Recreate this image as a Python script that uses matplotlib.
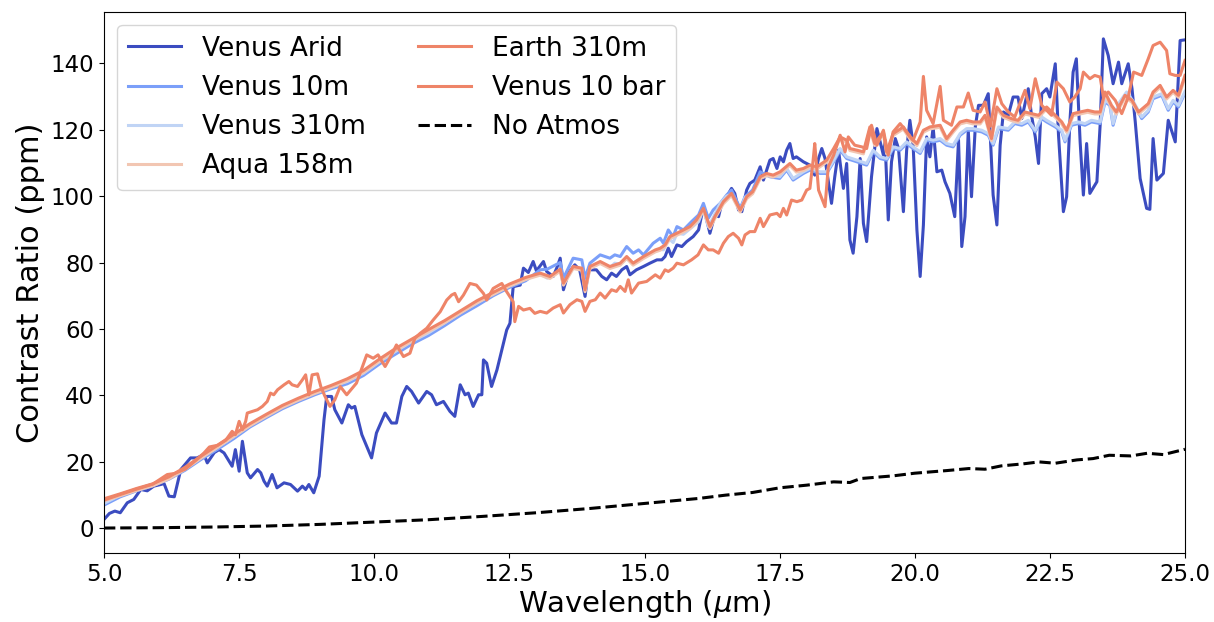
import matplotlib
matplotlib.use("Agg")
import matplotlib.pyplot as plt

# ---------------- data ----------------
arid_x = [5.0,5.1,5.2,5.3,5.43,5.55,5.68,5.8,5.92,6.05,
          6.11,6.2,6.3,6.42,6.6,6.72,6.85,6.91,7.04,7.13,
          7.22,7.37,7.43,7.5,7.56,7.65,7.71,7.84,7.9,7.96,
          8.02,8.11,8.2,8.33,8.45,8.58,8.67,8.73,8.79,8.88,
          8.98,9.07,9.12,9.21,9.27,9.4,9.52,9.58,9.64,9.77,
          9.86,9.95,10.04,10.2,10.32,10.41,10.51,10.6,10.69,10.82,
          10.97,11.06,11.15,11.28,11.4,11.49,11.59,11.68,11.74,11.83,
          11.93,11.99,12.02,12.08,12.17,12.27,12.36,12.45,12.51,12.57,
          12.64,12.7,12.76,12.85,12.94,13.0,13.13,13.19,13.31,13.38,
          13.44,13.5,13.59,13.71,13.8,13.9,13.96,14.11,14.21,14.3,
          14.39,14.48,14.58,14.67,14.73,14.85,14.98,15.1,15.23,15.32,
          15.38,15.44,15.5,15.6,15.69,15.78,15.9,16.0,16.09,16.15,
          16.21,16.3,16.37,16.43,16.52,16.61,16.67,16.74,16.8,16.89,
          16.95,17.04,17.14,17.2,17.32,17.38,17.45,17.51,17.57,17.63,
          17.69,17.75,17.81,17.94,18.06,18.15,18.22,18.28,18.34,18.46,
          18.52,18.59,18.68,18.74,18.8,18.86,18.93,18.99,19.05,19.11,
          19.2,19.3,19.36,19.42,19.45,19.51,19.57,19.64,19.7,19.79,
          19.85,19.91,19.97,20.04,20.1,20.16,20.22,20.28,20.34,20.41,
          20.5,20.56,20.65,20.74,20.81,20.87,20.93,20.99,21.05,21.12,
          21.18,21.27,21.36,21.45,21.52,21.58,21.64,21.73,21.82,21.91,
          21.98,22.1,22.16,22.23,22.29,22.35,22.44,22.5,22.6,22.66,
          22.75,22.81,22.87,22.93,22.99,23.06,23.12,23.18,23.24,23.37,
          23.43,23.49,23.58,23.67,23.77,23.83,23.95,24.02,24.08,24.17,
          24.29,24.35,24.41,24.48,24.6,24.69,24.82,24.91,25.0]
arid_y = [2.7,4.5,5.2,4.7,7.7,8.7,11.7,11.3,12.7,13.2,
          13.5,9.7,9.5,17.7,21.2,21.2,22.2,19.7,22.8,23.7,
          22.7,18.7,23.7,17.2,26.2,16.7,15.2,17.7,16.7,14.2,
          12.7,16.2,12.2,13.7,13.2,11.2,12.7,11.7,13.2,10.7,
          15.7,32.7,39.7,39.7,35.7,31.7,37.2,36.2,36.7,28.2,
          24.7,21.2,28.7,34.7,31.7,31.7,39.7,42.7,41.2,37.7,
          41.2,40.2,37.2,38.2,35.2,33.7,43.2,40.2,40.7,36.7,
          40.2,40.2,50.7,49.7,42.7,47.7,53.7,59.7,61.7,72.7,
          73.0,73.2,78.3,77.0,80.3,77.5,80.3,77.3,75.8,78.5,
          81.3,71.8,76.8,79.3,77.8,69.8,77.8,77.8,75.8,74.8,
          76.8,75.8,77.8,78.8,76.3,77.8,78.8,79.8,80.8,80.8,
          81.8,84.3,81.8,85.3,84.8,86.3,87.8,89.8,96.8,92.8,
          88.8,94.3,93.8,97.8,99.8,102.3,100.8,95.8,95.3,101.8,
          103.8,104.8,108.8,104.8,110.8,111.3,108.3,111.8,110.3,113.8,
          115.8,111.3,111.8,110.3,109.3,106.3,111.3,114.3,111.3,97.8,
          105.8,113.8,102.3,109.8,86.8,82.8,93.8,111.3,91.8,86.3,
          105.8,120.3,116.3,112.3,116.8,92.8,110.3,117.3,114.3,95.3,
          113.8,122.8,115.3,89.8,75.8,91.3,117.8,111.8,120.8,107.3,
          107.8,104.3,100.8,93.8,116.8,84.8,93.8,119.8,99.8,120.8,
          127.3,127.3,130.8,100.3,91.3,115.3,125.3,124.3,129.8,129.8,
          123.3,132.3,124.3,117.8,109.8,130.8,132.3,129.8,139.8,118.3,
          95.3,99.8,122.3,137.3,141.3,116.3,100.3,115.8,100.8,104.3,
          121.3,147.3,142.3,133.8,140.3,133.8,139.8,132.3,122.3,105.3,
          96.3,96.0,117.3,104.8,106.8,122.8,116.3,146.8,147.0]

venus_x = [5.0,5.3,5.6,5.9,6.2,6.5,6.8,7.1,7.4,7.7,
           8.0,8.3,8.6,8.9,9.2,9.5,9.8,10.1,10.4,10.7,
           11.0,11.3,11.6,11.9,12.2,12.5,12.8,13.07,13.2,13.44,
           13.5,13.68,13.84,13.9,13.99,14.18,14.36,14.45,14.55,14.67,
           14.79,14.89,14.98,15.16,15.29,15.35,15.44,15.53,15.6,15.72,
           15.87,16.0,16.09,16.18,16.27,16.4,16.52,16.61,16.77,16.86,
           17.0,17.14,17.32,17.5,17.63,17.75,17.94,18.06,18.25,18.37,
           18.5,18.62,18.74,18.93,19.11,19.23,19.36,19.48,19.6,19.73,
           19.85,19.97,20.1,20.22,20.34,20.47,20.59,20.71,20.84,20.96,
           21.08,21.24,21.36,21.45,21.55,21.73,21.85,21.98,22.1,22.23,
           22.35,22.44,22.6,22.72,22.78,22.9,23.03,23.15,23.27,23.43,
           23.52,23.61,23.67,23.77,23.92,24.05,24.2,24.32,24.41,24.57,
           24.69,24.78,24.88,25.0]
venus10m_y = [7.0,9.5,11.3,12.8,14.8,17.5,20.8,23.8,27.0,30.5,
              33.3,36.0,38.2,40.2,42.0,43.5,46.0,49.5,52.5,55.5,
              58.0,61.0,64.2,67.0,70.0,72.5,74.5,77.8,78.0,80.0,
              75.3,81.3,80.8,75.3,79.8,82.3,81.3,82.3,81.8,84.8,
              82.8,83.8,82.3,85.8,87.3,85.8,89.8,87.8,90.8,89.8,
              92.3,94.3,97.8,93.3,95.8,97.8,100.3,101.8,96.3,99.8,
              101.8,107.3,105.8,105.3,107.8,104.8,106.8,107.8,106.8,106.8,
              110.3,113.8,111.3,110.3,109.3,113.3,111.3,110.8,114.3,113.8,
              115.8,114.3,112.8,116.8,116.3,116.8,115.3,114.8,118.3,119.8,
              119.8,119.3,118.3,115.3,120.3,119.8,121.8,121.3,122.3,119.3,
              123.3,122.3,120.8,119.3,116.3,121.3,121.8,121.3,122.3,121.8,
              128.3,127.3,121.3,127.3,130.8,127.8,123.3,125.3,129.3,130.3,
              125.8,128.3,126.8,131.0]
venus310m_y = [7.5,10.0,11.8,13.3,15.3,18.0,21.3,24.4,27.6,31.0,
               33.9,36.6,38.8,40.8,42.6,44.2,46.7,50.2,53.3,56.3,
               58.8,61.8,65.0,67.8,70.6,73.0,75.0,76.5,75.3,77.5,
               73.5,78.5,78.0,71.8,78.3,80.0,78.5,79.8,79.5,81.5,
               79.8,80.8,81.5,83.3,84.0,83.8,87.3,86.0,88.8,88.5,
               90.5,92.3,96.0,90.8,93.5,97.8,100.0,100.5,95.5,99.5,
               101.0,105.5,106.3,105.8,108.3,105.3,107.3,108.3,107.3,107.3,
               110.8,114.3,111.8,110.8,109.8,113.8,111.8,111.3,114.8,114.3,
               116.3,114.8,113.3,117.3,116.8,117.3,115.8,115.3,118.8,120.3,
               120.3,119.8,118.8,115.8,120.8,120.3,122.3,121.8,122.8,119.8,
               123.8,122.8,121.3,119.8,116.8,121.8,122.3,121.8,122.8,122.3,
               128.8,127.8,121.8,127.8,131.3,128.3,123.8,125.8,129.8,130.8,
               126.3,128.8,127.3,131.5]

bar_x = [5.0,5.3,5.6,5.9,6.2,6.5,6.8,7.1,7.4,7.7,
         8.0,8.3,8.6,8.9,9.2,9.5,9.8,10.1,10.4,10.7,
         11.0,11.3,11.6,11.9,12.2,12.5,12.8,13.07,13.25,13.44,
         13.5,13.68,13.84,13.9,13.99,14.18,14.36,14.55,14.67,14.79,
         14.98,15.2,15.29,15.38,15.47,15.66,15.84,15.96,16.09,16.21,
         16.3,16.46,16.61,16.77,16.89,17.0,17.14,17.26,17.38,17.51,
         17.69,17.81,17.94,18.06,18.19,18.37,18.5,18.62,18.74,18.8,
         18.93,19.05,19.17,19.26,19.42,19.48,19.6,19.79,19.91,20.04,
         20.16,20.28,20.47,20.59,20.71,20.84,20.96,21.08,21.21,21.3,
         21.42,21.52,21.64,21.79,21.91,22.04,22.16,22.29,22.44,22.6,
         22.72,22.81,22.93,23.06,23.2,23.33,23.43,23.52,23.64,23.73,
         23.89,24.02,24.14,24.32,24.41,24.54,24.66,24.78,24.88,25.0]
venus10bar_y = [8.9,10.4,12.0,13.4,15.5,18.4,21.8,25.0,28.3,31.5,
                34.3,37.0,39.2,41.2,43.0,45.0,47.5,51.0,54.2,57.0,
                59.8,62.5,65.5,68.5,71.0,73.5,75.5,76.8,75.8,78.0,
                73.8,78.8,78.3,71.8,78.8,80.3,78.8,79.8,81.8,79.8,
                81.8,83.8,84.3,85.3,87.8,89.3,90.8,92.8,96.3,90.8,
                93.8,98.3,100.8,95.8,99.8,101.3,105.8,106.8,106.3,107.3,
                109.8,107.8,108.3,109.3,108.8,110.8,114.3,117.8,116.8,114.3,
                113.8,113.3,120.8,115.8,119.3,113.3,118.8,120.8,117.8,115.8,
                119.8,120.8,121.3,117.3,119.8,122.3,122.8,122.3,122.3,124.3,
                117.3,126.8,124.3,123.3,122.8,125.3,124.8,124.3,126.8,124.3,
                122.3,119.8,124.8,125.3,125.8,125.3,125.3,131.3,127.3,125.3,
                130.3,128.8,125.3,127.8,131.3,133.3,129.8,131.8,130.3,136.3]
aqua_y = [8.3,9.8,11.4,12.8,14.9,17.8,21.2,24.4,27.7,30.9,
          33.7,36.4,38.6,40.6,42.4,44.4,46.9,50.4,53.6,56.4,
          59.2,61.9,64.9,67.9,70.4,72.9,74.9,76.2,75.2,77.4,
          73.2,78.2,77.7,71.2,78.2,79.7,78.2,79.2,81.2,79.2,
          81.2,83.2,83.7,84.7,87.2,88.7,90.2,92.2,95.7,90.2,
          93.2,97.7,100.2,95.2,99.2,100.7,105.2,106.2,105.7,106.7,
          109.2,107.2,107.7,108.7,108.2,110.2,113.7,117.2,116.2,113.7,
          113.2,112.7,120.2,115.2,118.7,112.7,118.2,120.2,117.2,115.2,
          119.2,120.2,120.7,116.7,119.2,121.7,122.2,121.7,121.7,123.7,
          116.7,126.2,123.7,122.7,122.2,124.7,124.2,123.7,126.2,123.7,
          121.7,119.2,124.2,124.7,125.2,124.7,124.7,130.7,126.7,124.7,
          129.7,128.2,124.7,127.2,130.7,132.7,129.2,131.2,129.7,135.7]

earth_x = [5.0,5.3,5.6,5.9,6.17,6.3,6.5,6.7,6.85,6.95,
           7.1,7.25,7.37,7.43,7.5,7.56,7.62,7.65,7.84,7.93,
           8.02,8.08,8.14,8.21,8.33,8.42,8.48,8.58,8.67,8.73,
           8.79,8.85,8.95,9.01,9.08,9.18,9.27,9.37,9.49,9.67,
           9.86,9.98,10.07,10.2,10.32,10.41,10.54,10.66,10.75,10.85,
           10.97,11.09,11.22,11.34,11.43,11.49,11.56,11.65,11.77,11.89,
           12.02,12.08,12.2,12.36,12.45,12.51,12.57,12.6,12.67,12.76,
           12.88,12.97,13.07,13.19,13.31,13.44,13.5,13.62,13.75,13.84,
           13.9,13.99,14.09,14.18,14.27,14.39,14.48,14.55,14.64,14.7,
           14.76,14.89,15.04,15.2,15.29,15.38,15.44,15.53,15.6,15.72,
           15.87,15.99,16.09,16.18,16.27,16.37,16.46,16.55,16.64,16.74,
           16.8,16.86,16.95,17.04,17.14,17.2,17.32,17.45,17.51,17.57,
           17.63,17.72,17.82,17.91,18.0,18.06,18.12,18.15,18.22,18.34,
           18.4,18.5,18.62,18.71,18.77,18.89,19.02,19.11,19.2,19.3,
           19.42,19.51,19.6,19.73,19.85,19.97,20.1,20.16,20.22,20.34,
           20.47,20.53,20.68,20.78,20.9,20.99,21.08,21.21,21.3,21.4,
           21.52,21.61,21.73,21.85,22.04,22.13,22.23,22.35,22.53,22.63,
           22.75,22.87,22.96,23.06,23.12,23.24,23.33,23.43,23.49,23.58,
           23.71,23.83,23.95,24.05,24.2,24.32,24.41,24.54,24.66,24.72,
           24.82,24.91,25.0]
earth310m_y = [8.5,10.2,11.8,13.3,16.2,16.5,17.8,20.5,22.7,24.5,
               25.0,26.5,29.2,28.2,32.2,29.7,32.2,34.7,35.7,36.7,
               38.2,40.7,40.2,41.7,43.2,44.2,43.2,42.7,44.7,46.2,
               40.2,46.2,46.5,42.7,40.0,36.7,38.7,42.7,40.2,43.7,
               52.2,51.2,52.2,48.7,52.2,55.2,51.7,52.7,57.2,58.7,
               60.2,62.7,65.2,68.7,70.2,70.7,68.2,70.2,73.7,73.2,
               70.7,68.7,72.2,73.7,71.2,69.7,68.2,62.2,66.8,65.7,
               66.2,64.7,65.3,64.8,66.3,67.3,64.8,67.3,68.8,68.3,
               65.3,68.3,68.8,70.8,69.3,71.8,71.3,72.8,71.3,74.8,
               70.8,73.8,74.3,76.3,75.3,77.8,77.3,78.3,79.8,79.3,
               80.8,82.3,85.3,83.8,83.8,82.8,85.8,87.8,88.8,87.3,
               85.3,88.3,89.3,89.3,93.3,90.8,94.3,94.8,93.8,96.3,
               94.3,98.8,98.3,98.8,101.8,102.3,110.8,115.8,101.8,96.8,
               108.8,112.3,118.3,113.3,117.8,115.3,114.8,114.3,121.3,115.3,
               119.8,112.3,119.3,121.8,119.3,116.8,122.3,136.0,125.8,121.8,
               133.0,122.8,121.3,126.8,126.8,131.0,125.8,125.3,128.3,121.0,
               132.3,127.8,125.3,123.8,131.8,126.3,135.3,127.3,124.3,134.3,
               132.3,128.3,129.8,132.3,137.3,135.3,136.3,135.8,129.8,131.3,
               128.8,124.8,129.8,137.3,136.3,141.3,145.3,146.3,143.8,136.8,
               136.3,136.3,140.8]

noatm_x = [5,6,7,8,9,10,11,12,13,14,15,16,16.5,17,17.5,18,18.5,18.8,19,19.3,
           19.6,20,20.3,20.6,21,21.3,21.6,22,22.3,22.6,23,23.3,23.6,24,24.3,24.6,25]
noatm_y = [0.1,0.2,0.4,0.7,1.2,1.9,2.6,3.6,4.7,6.0,7.5,9.0,10.0,10.8,12.2,13.0,14.0,13.8,15.0,15.4,
           15.8,16.6,17.0,17.4,18.0,17.8,18.8,19.4,20.0,19.6,20.6,21.0,22.0,21.8,22.6,22.2,23.8]

labels = ["Venus Arid", "Venus 10m", "Venus 310m", "Aqua 158m",
          "Earth 310m", "Venus 10 bar", "No Atmos"]
colors = ["#3b4cc0", "#7b9ff9", "#c0d4f5", "#f2c6b2", "#ee8468", "#ee8468"]

# ---------------- figure ----------------
fig = plt.figure(figsize=(12.14, 6.22), dpi=100)
ax = fig.add_axes([0.0857, 0.111, 0.8904, 0.8698])

lw = 2.2
ax.plot(arid_x, arid_y, color=colors[0], lw=lw, label=labels[0])
ax.plot(venus_x, venus10m_y, color=colors[1], lw=lw, label=labels[1])
ax.plot(venus_x, venus310m_y, color=colors[2], lw=lw, label=labels[2])
ax.plot(bar_x, aqua_y, color=colors[3], lw=lw, label=labels[3])
ax.plot(earth_x, earth310m_y, color=colors[4], lw=lw, label=labels[4])
ax.plot(bar_x, venus10bar_y, color=colors[5], lw=lw, label=labels[5])
ax.plot(noatm_x, noatm_y, color="black", lw=lw, ls="--", label=labels[6])

ax.set_xlim(5, 25)
ax.set_ylim(-7.4, 155.4)
ax.set_yticks([0, 20, 40, 60, 80, 100, 120, 140])
ax.tick_params(labelsize=16.5)
ax.set_xlabel(r"Wavelength ($\mu$m)", fontsize=21, labelpad=2)
ax.set_ylabel("Contrast Ratio (ppm)", fontsize=22)

ax.legend(loc="upper left", ncol=2, fontsize=19)

fig.savefig("out.png", dpi=100)
